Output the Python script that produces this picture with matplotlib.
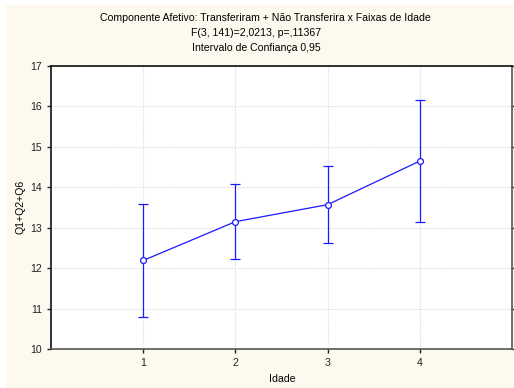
import numpy as np
import matplotlib
matplotlib.use("Agg")
import matplotlib.pyplot as plt

plt.rcParams["font.family"] = ["Liberation Sans", "DejaVu Sans"]

idade = [1, 2, 3, 4]
media = [12.19, 13.15, 13.57, 14.65]
ic_inf = [10.79, 12.22, 12.61, 13.13]
ic_sup = [13.59, 14.08, 14.53, 16.17]

BG = "#fdf9ee"
AZUL = "#1a1aff"
FS = 7.6

fig = plt.figure(figsize=(5.14, 3.88), dpi=100)
fig.patch.set_facecolor("white")
# fundo creme do painel
fig.patches.append(plt.Rectangle((6 / 514, 0), 1, 1 - 5 / 388, transform=fig.transFigure,
                                 facecolor=BG, edgecolor="none", zorder=-10))
ax = fig.add_axes([51 / 514, 1 - 349 / 388, 461 / 514, 283 / 388])
ax.set_facecolor("white")

m = np.array(media)
err = np.vstack([m - np.array(ic_inf), np.array(ic_sup) - m])
ax.errorbar(idade, media, yerr=err, color=AZUL, lw=0.9, elinewidth=0.9, capsize=3.3,
            capthick=0.9, marker="o", ms=4.2, mfc="white", mec=AZUL, mew=0.9, zorder=3)

ax.set_xlim(0, 5)
ax.set_ylim(10, 17)
ax.set_xticks(idade)
ax.set_yticks(range(10, 18))
ax.grid(True, color="#e2e2e2", ls=(0, (1.5, 1)), lw=0.8)
ax.tick_params(labelsize=FS, length=3, width=1, colors="#222222")
ax.tick_params(axis="y", right=True, which="both")
for s in ax.spines.values():
    s.set_color("#555555")
    s.set_linewidth(1.2)
ax.spines["top"].set_color("#111111")
ax.spines["left"].set_color("#111111")

fig.text(282 / 514, 1 - 379 / 388, "Idade", ha="center", va="center", fontsize=FS)
fig.text(20 / 514, 1 - 207 / 388, "Q1+Q2+Q6", ha="center", va="center", rotation=90, fontsize=FS)

fig.text(265 / 514, 1 - 18 / 388, "Componente Afetivo: Transferiram + Não Transferira x Faixas de Idade",
         ha="center", va="center", fontsize=FS)
fig.text(256 / 514, 1 - 33 / 388, "F(3, 141)=2,0213, p=,11367", ha="center", va="center", fontsize=FS)
fig.text(256 / 514, 1 - 48 / 388, "Intervalo de Confiança 0,95", ha="center", va="center", fontsize=FS)

fig.savefig("out.png", dpi=100, facecolor=fig.get_facecolor())
